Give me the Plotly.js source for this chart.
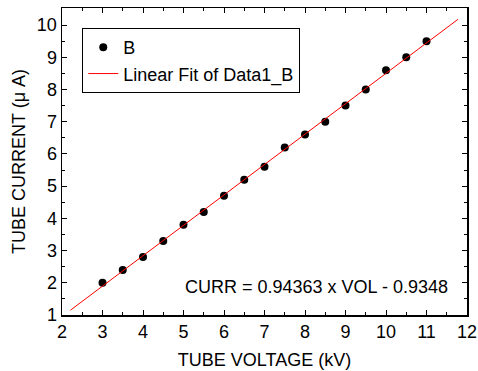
<!DOCTYPE html>
<html><head><meta charset="utf-8">
<script src="https://cdn.plot.ly/plotly-3.0.1.min.js"></script>
<style>body{margin:0;background:#fff}#plot{width:478px;height:371px}</style>
</head><body><div id="plot"></div>
<script>
var voltage = [3,3.5,4,4.5,5,5.5,6,6.5,7,7.5,8,8.5,9,9.5,10,10.5,11];
var current = [2.0,2.4,2.8,3.3,3.8,4.2,4.7,5.2,5.6,6.2,6.6,7.0,7.5,8.0,8.6,9.0,9.5];
var fitSlope = 0.94363;
var fitIntercept = -0.9348;
var fitX = [2.21, 11.78];
var fitY = fitX.map(function(v){return fitSlope*v + fitIntercept;});
var equationText = "CURR = 0.94363 x VOL - 0.9348";

var font = "Liberation Sans, Arial, sans-serif";
var data = [
 {x: voltage, y: current, mode: 'markers', type: 'scatter', name: 'B',
  marker: {color: '#000', size: 8}},
 {x: fitX, y: fitY, mode: 'lines', type: 'scatter', name: 'Linear Fit of Data1_B',
  line: {color: '#ff0000', width: 1}}
];
var axisCommon = {showline: true, linecolor: '#000', linewidth: 1.5, mirror: 'ticks',
  ticks: 'inside', ticklen: 5, tickwidth: 1, tickcolor: '#000', showgrid: false, zeroline: false,
  tickfont: {family: font, size: 18, color: '#000'},
  minor: {ticks: 'inside', ticklen: 3, tickcolor: '#000', dtick: 0.5, showgrid: false}};
var layout = {
  width: 478, height: 371,
  margin: {l: 62, r: 11, t: 8, b: 56},
  paper_bgcolor: '#fff', plot_bgcolor: '#fff',
  font: {family: font, color: '#000'},
  showlegend: true,
  legend: {x: 0.05, y: 0.935, xanchor: 'left', yanchor: 'top', bordercolor: '#000', borderwidth: 1,
    bgcolor: '#fff', font: {family: font, size: 18, color: '#000'}, tracegroupgap: 0},
  xaxis: Object.assign({}, axisCommon, {range: [2, 12], dtick: 1,
    title: {text: 'TUBE VOLTAGE (kV)', font: {family: font, size: 18, color: '#000'}, standoff: 12}}),
  yaxis: Object.assign({}, axisCommon, {range: [1, 10.53], dtick: 1,
    title: {text: 'TUBE CURRENT (\u03bc A)', font: {family: font, size: 18, color: '#000'}, standoff: 6}}),
  annotations: [{xref: 'paper', yref: 'paper', x: 0.958, y: 0.091, xanchor: 'right', yanchor: 'middle',
    text: equationText, showarrow: false, font: {family: font, size: 18, color: '#000'}}]
};
Plotly.newPlot('plot', data, layout, {displayModeBar: false, staticPlot: true});
</script></body></html>
